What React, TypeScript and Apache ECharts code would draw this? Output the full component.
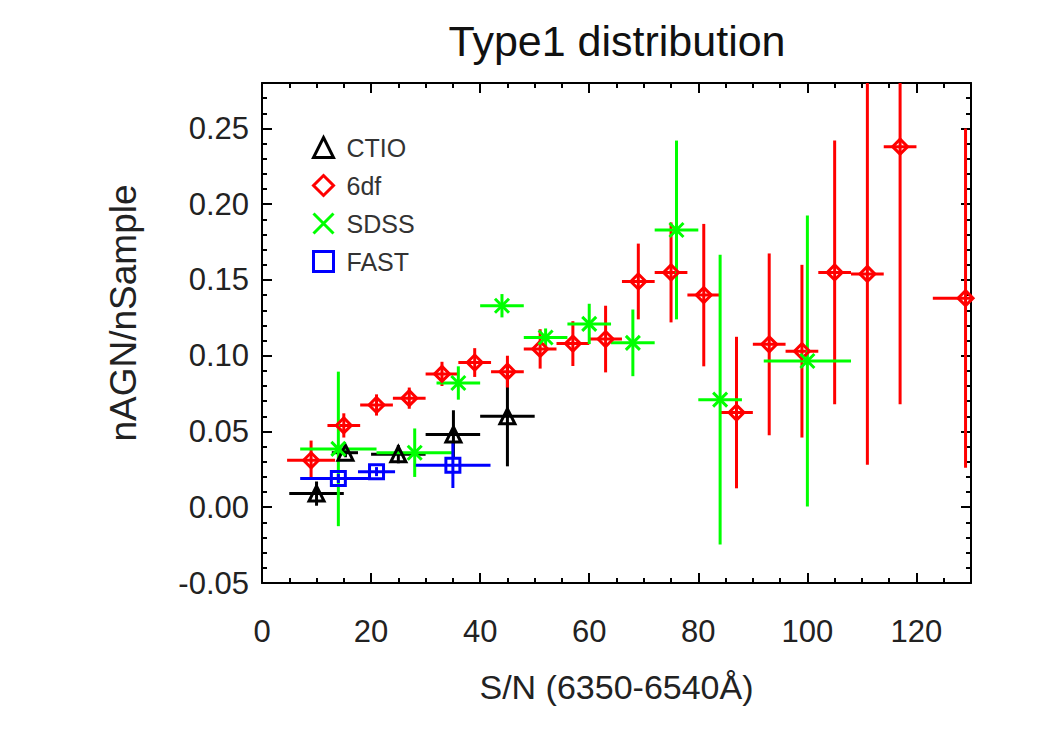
import React, { useEffect, useRef } from 'react';
import * as echarts from 'echarts';

// ---------------- data ----------------
const seriesNames = ['CTIO', '6df', 'SDSS', 'FAST'];

const ctioX = [10, 15.3, 25, 35.1, 45];
const ctioY = [0.009, 0.036, 0.035, 0.048, 0.06];
const ctioXLo = [5, 12.8, 20, 30, 40];
const ctioXHi = [15, 17.6, 30, 40, 50];
const ctioYErr = [0.008, 0.003, 0.006, 0.016, 0.033];

const sixdfX = [9, 15, 21, 27, 33, 39, 45, 51, 57, 63, 69, 75, 81, 87, 93, 99, 105, 111, 117, 129];
const sixdfY = [0.031, 0.054, 0.0675, 0.072, 0.088, 0.0955, 0.0895, 0.1045, 0.108, 0.111, 0.149, 0.155, 0.14, 0.0625, 0.1075, 0.103, 0.155, 0.154, 0.238, 0.138];
const sixdfXErr = [4.4, 3, 3, 3, 3, 3, 3, 3, 3, 3, 3, 3, 3, 3, 3, 3, 3, 3, 3, 6];
const sixdfYErr = [0.013, 0.008, 0.007, 0.007, 0.008, 0.0095, 0.0105, 0.013, 0.0148, 0.022, 0.025, 0.033, 0.047, 0.05, 0.06, 0.057, 0.087, 0.126, 0.17, 0.112];

const sdssX = [14, 28, 36, 44, 52, 60, 68, 76, 84, 100];
const sdssY = [0.0385, 0.036, 0.082, 0.133, 0.112, 0.121, 0.1085, 0.183, 0.071, 0.0965];
const sdssXErr = [7, 7, 4, 4, 4, 4, 4, 4, 4, 8];
const sdssYErr = [0.051, 0.016, 0.011, 0.0077, 0.006, 0.0133, 0.022, 0.059, 0.0956, 0.096];

const fastX = [14, 21, 35];
const fastY = [0.019, 0.0235, 0.0277];
const fastXLo = [7, 17.6, 28.2];
const fastXHi = [19.5, 24.4, 41.9];
const fastYErr = [0.003, 0.003, 0.015];

const xMin = 0;
const xMax = 130;
const xMajor = 20;
const xMinor = 5;
const yMin = -0.05;
const yMax = 0.28;
const yMajor = 0.05;
const yMinor = 0.01;

const titleText = 'Type1 distribution';
const xName = 'S/N (6350-6540Å)';
const yName = 'nAGN/nSample';

// ---------------- helpers ----------------
type Row = [number, number, number, number, number, number];

function rows(x: number[], y: number[], xlo: number[], xhi: number[], ylo: number[], yhi: number[]): Row[] {
  return x.map((v, i) => [v, y[i], xlo[i], xhi[i], ylo[i], yhi[i]] as Row);
}

const ctioRows = rows(ctioX, ctioY, ctioXLo, ctioXHi,
  ctioY.map((v, i) => v - ctioYErr[i]), ctioY.map((v, i) => v + ctioYErr[i]));
const sixdfRows = rows(sixdfX, sixdfY,
  sixdfX.map((v, i) => v - sixdfXErr[i]), sixdfX.map((v, i) => v + sixdfXErr[i]),
  sixdfY.map((v, i) => v - sixdfYErr[i]), sixdfY.map((v, i) => v + sixdfYErr[i]));
const sdssRows = rows(sdssX, sdssY,
  sdssX.map((v, i) => v - sdssXErr[i]), sdssX.map((v, i) => v + sdssXErr[i]),
  sdssY.map((v, i) => v - sdssYErr[i]), sdssY.map((v, i) => v + sdssYErr[i]));
const fastRows = rows(fastX, fastY, fastXLo, fastXHi,
  fastY.map((v, i) => v - fastYErr[i]), fastY.map((v, i) => v + fastYErr[i]));

const FONT = '"Liberation Sans", Arial, Helvetica, sans-serif';
const TXT = '#222';
const XSYM = 'path://M0,0L20,20M20,0L0,20';

function errorSeries(name: string, data: Row[], color: string) {
  return {
    type: 'custom',
    name: name + ' err',
    xAxisIndex: 0,
    yAxisIndex: 0,
    clip: true,
    silent: true,
    encode: { x: [0, 2, 3], y: [1, 4, 5] },
    data,
    renderItem: (params: any, api: any) => {
      const x = api.value(0);
      const y = api.value(1);
      const l = api.coord([api.value(2), y]);
      const r = api.coord([api.value(3), y]);
      const b = api.coord([x, api.value(4)]);
      const t = api.coord([x, api.value(5)]);
      const st = { stroke: color, lineWidth: 3, fill: 'none' };
      return {
        type: 'group',
        children: [
          { type: 'line', shape: { x1: l[0], y1: l[1], x2: r[0], y2: r[1] }, style: st },
          { type: 'line', shape: { x1: t[0], y1: t[1], x2: b[0], y2: b[1] }, style: st },
        ],
      };
    },
  };
}

function markerSeries(name: string, data: Row[], color: string, symbol: string, size: number) {
  return {
    type: 'scatter',
    name,
    xAxisIndex: 0,
    yAxisIndex: 0,
    symbol,
    symbolSize: size,
    data: data.map((r) => [r[0], r[1]]),
    itemStyle: { color: 'none', borderColor: color, borderWidth: 3, opacity: 1 },
    emphasis: { disabled: true },
  };
}

function xAxes() {
  const base = { type: 'value', min: xMin, max: xMax, splitLine: { show: false } };
  return [
    {
      ...base, position: 'bottom', interval: xMajor,
      axisLine: { show: true, onZero: false, lineStyle: { color: '#000', width: 2 } },
      axisTick: { show: true, inside: true, length: 10, lineStyle: { color: '#000', width: 2 } },
      axisLabel: { show: true, showMaxLabel: false, margin: 33, fontSize: 31, color: TXT, fontFamily: FONT },
      name: xName, nameLocation: 'middle', nameGap: 87,
      nameTextStyle: { fontSize: 34, color: TXT, fontFamily: FONT },
    },
    {
      ...base, position: 'bottom', interval: xMinor,
      axisLine: { show: false, onZero: false },
      axisTick: { show: true, inside: true, length: 5, lineStyle: { color: '#000', width: 2 } },
      axisLabel: { show: false },
    },
    {
      ...base, position: 'top', interval: xMajor,
      axisLine: { show: true, onZero: false, lineStyle: { color: '#000', width: 2 } },
      axisTick: { show: true, inside: true, length: 10, lineStyle: { color: '#000', width: 2 } },
      axisLabel: { show: false },
    },
    {
      ...base, position: 'top', interval: xMinor,
      axisLine: { show: false, onZero: false },
      axisTick: { show: true, inside: true, length: 5, lineStyle: { color: '#000', width: 2 } },
      axisLabel: { show: false },
    },
  ];
}

function yAxes() {
  const base = { type: 'value', min: yMin, max: yMax, splitLine: { show: false } };
  return [
    {
      ...base, position: 'left', interval: yMajor,
      axisLine: { show: true, onZero: false, lineStyle: { color: '#000', width: 2 } },
      axisTick: { show: true, inside: true, length: 10, lineStyle: { color: '#000', width: 2 } },
      axisLabel: {
        show: true, showMaxLabel: false, margin: 13, fontSize: 31, color: TXT, fontFamily: FONT,
        formatter: (v: number) => v.toFixed(2),
      },
      name: yName, nameLocation: 'middle', nameGap: 120,
      nameTextStyle: { fontSize: 37, color: TXT, fontFamily: FONT, padding: [0, 0, 0, 40] },
    },
    {
      ...base, position: 'left', interval: yMinor,
      axisLine: { show: false, onZero: false },
      axisTick: { show: true, inside: true, length: 5, lineStyle: { color: '#000', width: 2 } },
      axisLabel: { show: false },
    },
    {
      ...base, position: 'right', interval: yMajor,
      axisLine: { show: true, onZero: false, lineStyle: { color: '#000', width: 2 } },
      axisTick: { show: true, inside: true, length: 10, lineStyle: { color: '#000', width: 2 } },
      axisLabel: { show: false },
    },
    {
      ...base, position: 'right', interval: yMinor,
      axisLine: { show: false, onZero: false },
      axisTick: { show: true, inside: true, length: 5, lineStyle: { color: '#000', width: 2 } },
      axisLabel: { show: false },
    },
  ];
}

export default function App() {
  const ref = useRef<HTMLDivElement>(null);

  useEffect(() => {
    if (!ref.current) return;
    const chart = echarts.init(ref.current, undefined, { renderer: 'svg' });
    const colors = ['#000000', '#ff0000', '#00ff00', '#0000ff'];
    const symbols = ['triangle', 'diamond', XSYM, 'rect'];
    chart.setOption({
      animation: false,
      backgroundColor: '#ffffff',
      title: {
        text: titleText,
        left: 612,
        top: 14,
        textAlign: 'center',
        textStyle: { fontSize: 43, fontWeight: 'normal', color: '#111', fontFamily: FONT },
      },
      grid: { left: 262, top: 83, width: 709, height: 500, containLabel: false },
      legend: {
        orient: 'vertical',
        left: 306,
        top: 130,
        itemWidth: 20,
        itemHeight: 20,
        itemGap: 13,
        selectedMode: false,
        textStyle: { fontSize: 25, color: '#333', fontFamily: FONT, lineHeight: 25, padding: [0, 0, 0, 8] },
        data: seriesNames.map((n, i) => ({
          name: n,
          icon: symbols[i],
          itemStyle: { color: 'none', borderColor: colors[i], borderWidth: 3 },
        })),
      },
      xAxis: xAxes(),
      yAxis: yAxes(),
      series: [
        errorSeries('CTIO', ctioRows, colors[0]),
        markerSeries('CTIO', ctioRows, colors[0], symbols[0], 15),
        errorSeries('6df', sixdfRows, colors[1]),
        markerSeries('6df', sixdfRows, colors[1], symbols[1], 15),
        errorSeries('SDSS', sdssRows, colors[2]),
        markerSeries('SDSS', sdssRows, colors[2], symbols[2], 14),
        errorSeries('FAST', fastRows, colors[3]),
        markerSeries('FAST', fastRows, colors[3], symbols[3], 14),
      ],
    });
    return () => chart.dispose();
  }, []);

  return (
    <div
      ref={ref}
      style={{ position: 'fixed', left: 0, top: 0, width: 1050, height: 750, background: '#fff' }}
    />
  );
}
